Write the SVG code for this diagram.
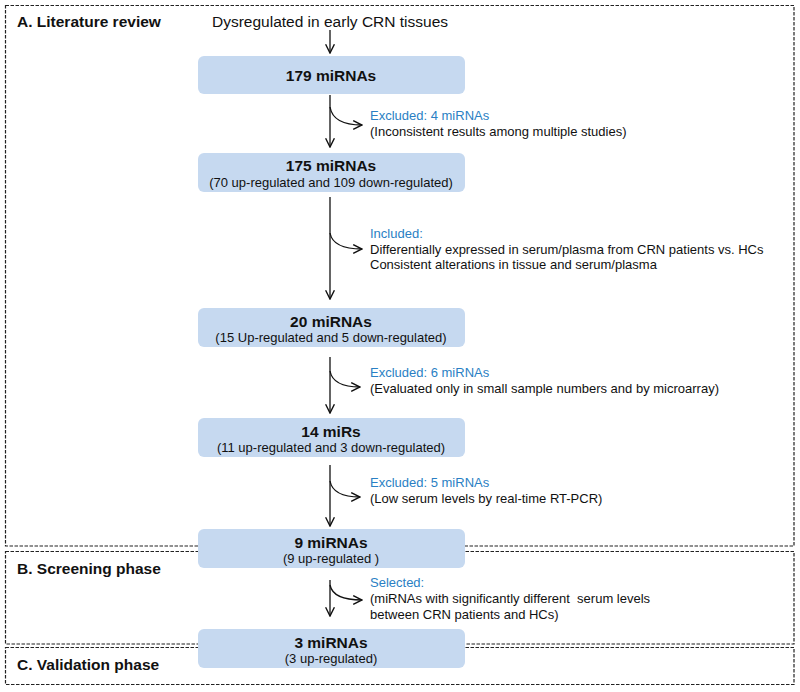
<svg xmlns="http://www.w3.org/2000/svg" width="800" height="692" viewBox="0 0 800 692">
<defs>
<style>
text{font-family:"Liberation Sans",Arial,sans-serif;fill:#111}
.sec{fill:none;stroke:#222;stroke-width:1.2;stroke-dasharray:3.5 1.5}
.secl{font-size:15.5px;font-weight:bold}
.box{fill:#c6d9f0}
.t{font-size:15.5px;font-weight:bold;text-anchor:middle}
.s{font-size:13px;text-anchor:middle}
.top{font-size:15.5px;text-anchor:middle}
.lb{font-size:13px;white-space:pre}
.bl{fill:#2a7fc4}
.c{fill:none;stroke:#111;stroke-width:1.3}
</style>
<marker id="ah" viewBox="0 0 10 10" refX="9" refY="5" markerWidth="11" markerHeight="11" markerUnits="userSpaceOnUse" orient="auto">
<path d="M1,1 L9,5 L1,9" fill="none" stroke="#111" stroke-width="1.3"/>
</marker>
</defs>
<rect width="800" height="692" fill="#fff"/>
<g id="sections">
<rect class="sec" x="5.5" y="5.5" width="788.5" height="540.5"/>
<rect class="sec" x="5.5" y="551.5" width="788.5" height="92.5"/>
<rect class="sec" x="5.5" y="647.5" width="788.5" height="37"/>
<text class="secl" x="17" y="27">A. Literature review</text>
<text class="secl" x="17" y="574">B. Screening phase</text>
<text class="secl" x="17" y="670">C. Validation phase</text>
</g>
<g id="connectors">
<line class="c" x1="330" y1="30" x2="330" y2="53" marker-end="url(#ah)"/>
<line class="c" x1="330" y1="95" x2="330" y2="147" marker-end="url(#ah)"/>
<path class="c" d="M330,107 Q333,125 362,125" marker-end="url(#ah)"/>
<line class="c" x1="330" y1="197" x2="330" y2="299" marker-end="url(#ah)"/>
<path class="c" d="M330,233 Q333,249 362,249" marker-end="url(#ah)"/>
<line class="c" x1="330" y1="357" x2="330" y2="413" marker-end="url(#ah)"/>
<path class="c" d="M330,371 Q333,387 360,387" marker-end="url(#ah)"/>
<line class="c" x1="330" y1="465" x2="330" y2="526" marker-end="url(#ah)"/>
<path class="c" d="M330,481 Q333,497 360,497" marker-end="url(#ah)"/>
<line class="c" x1="330" y1="580" x2="330" y2="616" marker-end="url(#ah)"/>
<path class="c" d="M330,585 Q333,600 362,600" marker-end="url(#ah)"/>
</g>
<g id="start">
<text class="top" x="330" y="27">Dysregulated in early CRN tissues</text>
</g>
<g id="n179">
<rect class="box" x="198" y="56" width="267" height="38" rx="6"/>
<text class="t" x="331" y="81">179 miRNAs</text>
</g>
<g id="n175">
<rect class="box" x="198" y="153" width="267" height="39" rx="6"/>
<text class="t" x="331" y="171">175 miRNAs</text>
<text class="s" x="331" y="187">(70 up-regulated and 109 down-regulated)</text>
</g>
<g id="n20">
<rect class="box" x="198" y="308" width="267" height="39" rx="6"/>
<text class="t" x="331" y="327">20 miRNAs</text>
<text class="s" x="331" y="342">(15 Up-regulated and 5 down-regulated)</text>
</g>
<g id="n14">
<rect class="box" x="198" y="418" width="267" height="39" rx="6"/>
<text class="t" x="331" y="437">14 miRs</text>
<text class="s" x="331" y="452">(11 up-regulated and 3 down-regulated)</text>
</g>
<g id="n9">
<rect class="box" x="198" y="529" width="267" height="39" rx="6"/>
<text class="t" x="331" y="548">9 miRNAs</text>
<text class="s" x="331" y="563">(9 up-regulated )</text>
</g>
<g id="n3">
<rect class="box" x="198" y="629" width="267" height="39" rx="6"/>
<text class="t" x="331" y="648">3 miRNAs</text>
<text class="s" x="331" y="663">(3 up-regulated)</text>
</g>
<g id="lab1">
<text class="lb bl" x="370" y="120">Excluded: 4 miRNAs</text>
<text class="lb" x="370" y="136">(Inconsistent results among multiple studies)</text>
</g>
<g id="lab2">
<text class="lb bl" x="370" y="238">Included:</text>
<text class="lb" x="370" y="254">Differentially expressed in serum/plasma from CRN patients vs. HCs</text>
<text class="lb" x="370" y="269">Consistent alterations in tissue and serum/plasma</text>
</g>
<g id="lab3">
<text class="lb bl" x="370" y="377">Excluded: 6 miRNAs</text>
<text class="lb" x="370" y="393">(Evaluated only in small sample numbers and by microarray)</text>
</g>
<g id="lab4">
<text class="lb bl" x="370" y="487">Excluded: 5 miRNAs</text>
<text class="lb" x="370" y="503">(Low serum levels by real-time RT-PCR)</text>
</g>
<g id="lab5">
<text class="lb bl" x="370" y="587">Selected:</text>
<text class="lb" x="370" y="603">(miRNAs with significantly different  serum levels</text>
<text class="lb" x="370" y="619">between CRN patients and HCs)</text>
</g>
</svg>
